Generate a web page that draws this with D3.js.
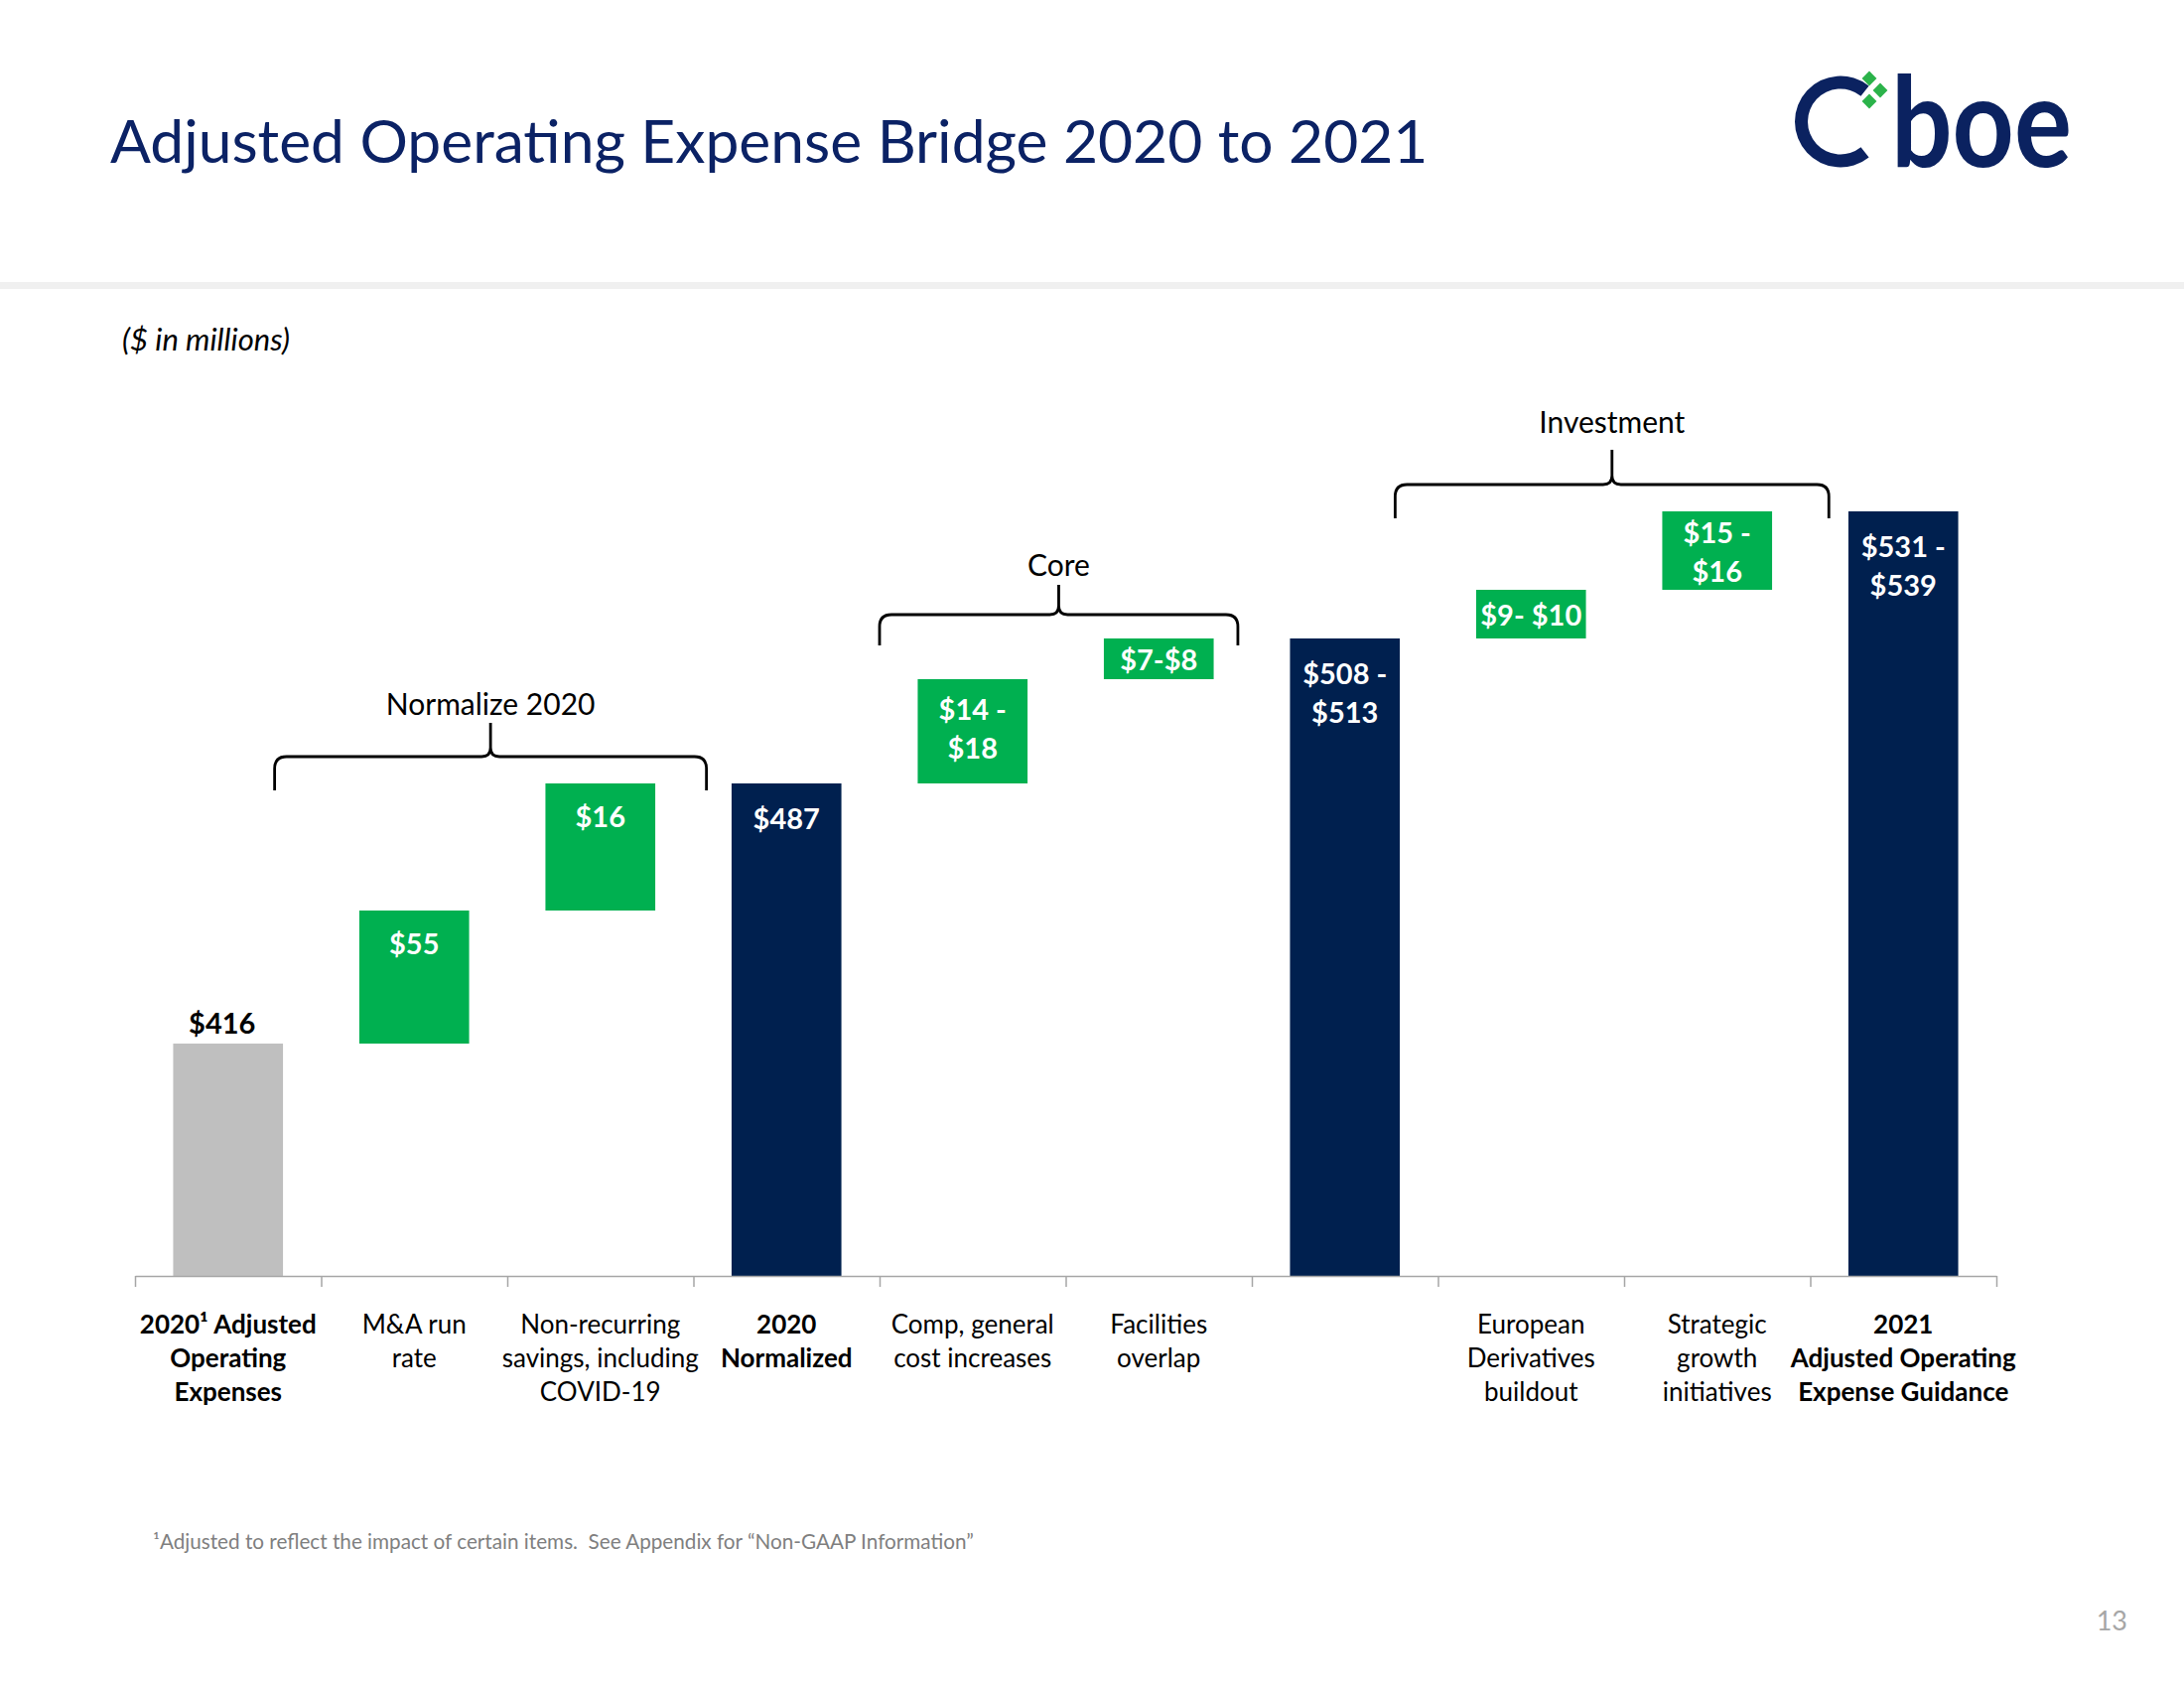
<!DOCTYPE html>
<html><head><meta charset="utf-8">
<script src="https://cdn.jsdelivr.net/npm/d3@7"></script>
<style>
html,body{margin:0;padding:0;background:#fff;}
svg{display:block;}
text{font-family:Lato,"Open Sans",sans-serif;}
</style></head><body>
<svg id="chart" width="2200" height="1700"></svg>
<script>
// ---------- data (bars are schematic, not to scale) ----------
const categoryLines = [
  ["2020¹ Adjusted","Operating","Expenses"],
  ["M&A run","rate"],
  ["Non-recurring","savings, including","COVID-19"],
  ["2020","Normalized"],
  ["Comp, general","cost increases"],
  ["Facilities","overlap"],
  [],
  ["European","Derivatives","buildout"],
  ["Strategic","growth","initiatives"],
  ["2021","Adjusted Operating","Expense Guidance"]
];
const barKinds  = ["start","increase","increase","total","increase","increase","total","increase","increase","total"];
// plotted chart units (baseline / top of each floating bar)
const barBase   = [0, 234, 368, 0, 496, 601, 0, 642, 691, 0];
const barTop    = [234, 368, 496, 496, 601, 642, 642, 691, 770, 770];
const valueLabels = [["$416"],["$55"],["$16"],["$487"],["$14 -","$18"],["$7-$8"],["$508 -","$513"],["$9- $10"],["$15 -","$16"],["$531 -","$539"]];
const groupNames   = ["Normalize 2020","Core","Investment"];
const groupMembers = [[1,2],[4,5],[7,8]];
const footnote = "¹Adjusted to reflect the impact of certain items.  See Appendix for “Non-GAAP Information”";

// ---------- drawing ----------
const W = 2200, H = 1700;
const svg = d3.select("#chart");
const navy = "#00204f", green = "#00b050", grey = "#bfbfbf";
const colorOf = {start: grey, increase: green, total: navy};

// header
svg.append("text").attr("x",111).attr("y",164).attr("font-size",60.5)
  .attr("fill","#0b2265").text("Adjusted Operating Expense Bridge 2020 to 2021");
svg.append("rect").attr("x",0).attr("y",284).attr("width",W).attr("height",7).attr("fill","#f0f0f0");
svg.append("text").attr("x",123).attr("y",353).attr("font-size",31).attr("font-style","italic")
  .attr("fill","#000").text("($ in millions)");

// logo
const logo = svg.append("g");
logo.append("path")
  .attr("d", d3.arc()({innerRadius:33, outerRadius:46, startAngle:Math.PI/2+0.9, endAngle:Math.PI*2.5-0.9}))
  .attr("transform","translate(1854,122.5)").attr("fill","#0b2260");
const dia = d3.symbol(d3.symbolSquare, 110)();
[[1883,79],[1894,91],[1883,102]].forEach(p => {
  logo.append("path").attr("d",dia).attr("transform",`translate(${p[0]},${p[1]}) rotate(45)`).attr("fill","#2bb34a");
});
logo.append("text").attr("x",1905).attr("y",168).attr("font-size",126).attr("font-weight",700)
  .attr("fill","#0b2260").attr("textLength",182).attr("lengthAdjust","spacingAndGlyphs").text("boe");

// scales
const idx = d3.range(categoryLines.length);
const x = d3.scaleBand().domain(idx).range([136,2011]).padding(0);
const y = d3.scaleLinear().domain([0,800]).range([1285,485]);
const barW = x.bandwidth()*0.59;
const cx = i => x(i) + x.bandwidth()/2;

// bars
svg.append("g").selectAll("rect").data(idx).join("rect")
  .attr("x", i => cx(i) - barW/2)
  .attr("y", i => y(barTop[i]))
  .attr("width", barW)
  .attr("height", i => y(barBase[i]) - y(barTop[i]))
  .attr("fill", i => colorOf[barKinds[i]]);

// axis (ticks at band boundaries)
const xt = d3.scaleLinear().domain([0, idx.length]).range(x.range());
const axisG = svg.append("g").attr("transform",`translate(0,${y(0)})`)
  .call(d3.axisBottom(xt).tickValues(d3.range(idx.length+1)).tickSize(11).tickSizeOuter(0).tickFormat(""));
axisG.selectAll("path,line").attr("stroke","#a6a6a6").attr("stroke-width",1.5);

// category labels
const catG = svg.append("g");
idx.forEach(i => {
  const t = catG.append("text").attr("text-anchor","middle").attr("font-size",26)
    .attr("font-weight", barKinds[i] === "increase" ? 400 : 700).attr("fill","#000");
  categoryLines[i].forEach((ln,k) => {
    t.append("tspan").attr("x",cx(i)).attr("y",1343 + k*34).text(ln);
  });
});

// value labels
const lh = 39, fs = 29;
idx.forEach(i => {
  const lines = valueLabels[i];
  const top = y(barTop[i]), h = y(barBase[i]) - y(barTop[i]);
  const t = svg.append("text").attr("text-anchor","middle").attr("font-size",fs).attr("font-weight",700);
  if (barKinds[i] === "start") {
    t.attr("fill","#000").attr("x",cx(i) - 6).attr("y",top - 10).text(lines[0]);
  } else {
    const blockH = lines.length*lh;
    const maxOff = barKinds[i] === "total" ? 15 : (lines.length > 1 ? 10 : 13);
    const off = Math.max(0, Math.min(maxOff, (h - blockH)/2));
    t.attr("fill","#fff");
    lines.forEach((ln,k) => {
      t.append("tspan").attr("x",cx(i)).attr("y", top + off + lh*(k+0.5) + fs*0.4).text(ln);
    });
  }
});

// group brackets
const groupSpan  = [[0.75,3.07],[4.0,5.925],[6.77,9.1]]; // in band-step units
const groupDepth = [34,31,34], groupTip = [34,30,35], groupGap = [8,9,17];
groupNames.forEach((name,g) => {
  const x0 = xt(groupSpan[g][0]), x1 = xt(groupSpan[g][1]);
  const xc = (x0 + x1)/2;
  const yEnd = y(d3.max(groupMembers[g], i => barTop[i])) + 7;
  const yH = yEnd - groupDepth[g], yTip = yH - groupTip[g], r = 12, r2 = 9;
  const p = d3.path();
  p.moveTo(x0, yEnd); p.lineTo(x0, yH + r); p.quadraticCurveTo(x0, yH, x0 + r, yH);
  p.lineTo(xc - r2, yH); p.quadraticCurveTo(xc, yH, xc, yH - r2); p.lineTo(xc, yTip);
  p.moveTo(xc, yH - r2); p.quadraticCurveTo(xc, yH, xc + r2, yH);
  p.lineTo(x1 - r, yH); p.quadraticCurveTo(x1, yH, x1, yH + r); p.lineTo(x1, yEnd);
  svg.append("path").attr("d", p.toString()).attr("fill","none").attr("stroke","#000").attr("stroke-width",2.8);
  svg.append("text").attr("x",xc).attr("y",yTip - groupGap[g]).attr("text-anchor","middle")
    .attr("font-size",30).attr("fill","#000").text(name);
});

// footnote & page number
svg.append("text").attr("x",154).attr("y",1560).attr("font-size",20.7).attr("fill","#7f7f7f")
  .style("white-space","pre").text(footnote);
svg.append("text").attr("x",2143).attr("y",1642).attr("text-anchor","end").attr("font-size",27)
  .attr("fill","#a6a6a6").text("13");
</script>
</body></html>
